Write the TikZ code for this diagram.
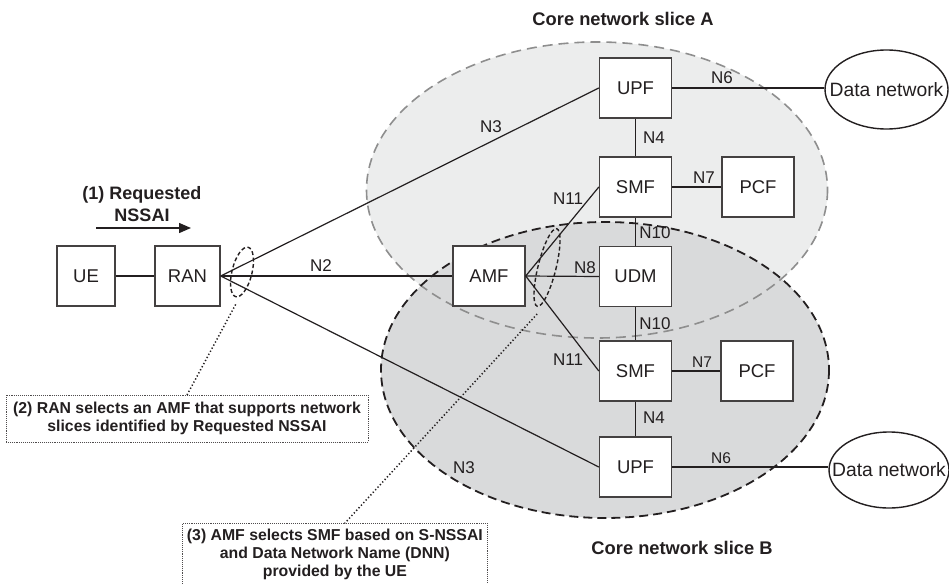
\documentclass[tikz,border=0pt]{standalone}
\usepackage{fontspec}
\setmainfont{Liberation Sans}
\usetikzlibrary{shapes.geometric,arrows.meta}
\definecolor{sliceA}{HTML}{ECEDED}
\definecolor{sliceB}{HTML}{D9DADB}
\definecolor{rimA}{HTML}{8E8E8E}
\definecolor{ink}{HTML}{231F20}

\begin{document}
\begin{tikzpicture}[x=1pt,y=-1pt,
  nf/.style={draw=ink!85, fill=white, line width=1.4pt, minimum width=72pt,
    minimum height=60pt, inner sep=0pt, text=ink,
    font=\fontsize{18.5}{20}\selectfont},
  dn/.style={ellipse, draw=ink, fill=white, line width=1.4pt,
    minimum width=123pt, minimum height=79pt, inner sep=0pt},
  dntext/.style={inner sep=0pt, text=ink, font=\fontsize{19.3}{20}\selectfont},
  link/.style={draw=ink, line width=1.2pt},
  ref/.style={inner sep=0pt, text=ink, font=\fontsize{17}{18}\selectfont},
  refsm/.style={inner sep=0pt, text=ink, font=\fontsize{15.5}{17}\selectfont},
  title/.style={inner sep=0pt, text=ink, font=\bfseries\fontsize{18.3}{20}\selectfont},
  note/.style={draw=ink!80, line width=0.8pt, dash pattern=on 0.8pt off 1.1pt,
    inner sep=0pt, align=center, text=ink,
    font=\bfseries\fontsize{15.8}{17.6}\selectfont},
  pick/.style={ellipse, draw=ink, line width=1.4pt, dash pattern=on 4pt off 2.5pt,
    inner sep=0pt},
  leader/.style={draw=ink, line width=1.5pt, dash pattern=on 1.3pt off 2.2pt}
]
\useasboundingbox (0,0) rectangle (949,583);

% core network slices
\fill[sliceA] (597,190) ellipse [x radius=230.5, y radius=148];
\fill[sliceB] (605,370) ellipse [x radius=224, y radius=148];
\draw[rimA, line width=1.6pt, dash pattern=on 10pt off 6pt]
  (597,190) ellipse [x radius=230.5, y radius=148];
\draw[ink, line width=1.8pt, dash pattern=on 9pt off 5pt]
  (605,370) ellipse [x radius=224, y radius=148];

\node[title] (titleA) at (623,19) {Core network slice A};
\node[title] (titleB) at (682,548) {Core network slice B};

% network functions
\node[nf, minimum width=58pt] (ue) at (86,276) {UE};
\node[nf, minimum width=65pt] (ran) at (187.5,276) {RAN};
\node[nf] (amf) at (489,276) {AMF};
\node[nf] (udm) at (635.5,276.5) {UDM};
\node[nf] (upfA) at (635.5,88) {UPF};
\node[nf] (smfA) at (635.5,187) {SMF};
\node[nf] (pcfA) at (758,187) {PCF};
\node[nf] (smfB) at (635.5,371) {SMF};
\node[nf] (pcfB) at (757,371) {PCF};
\node[nf] (upfB) at (635.5,467) {UPF};
\node[dn] (dnA) at (886.5,89.5) {};
\node[dntext] (dnAtext) at (dnA.center) {Data network};
\node[dn, minimum width=120pt, minimum height=76pt] (dnB) at (889,470) {};
\node[dntext] (dnBtext) at (dnB.center) {Data network};

% interfaces
\draw[link] (ue) -- (ran);
\draw[link] (ran.east) -- (amf.west);
\draw[link] (ran.east) -- (upfA.west);
\draw[link] (ran.east) -- (upfB.west);
\draw[link] (amf.east) -- (smfA.west);
\draw[link] (amf.east) -- (udm.west);
\draw[link] (amf.east) -- (smfB.west);
\draw[link] (upfA) -- (smfA);
\draw[link] (smfA) -- (udm);
\draw[link] (udm) -- (smfB);
\draw[link] (smfB) -- (upfB);
\draw[link] (smfA) -- (pcfA);
\draw[link] (smfB) -- (pcfB);
\draw[link] (upfA.east) -- (upfA.east -| dnA.west);
\draw[link] (upfB.east) -- (upfB.east -| dnB.west);

\node[ref] (lN2) at (321,266) {N2};
\node[ref] (lN3a) at (491,127) {N3};
\node[ref] (lN3b) at (464,468) {N3};
\node[ref] (lN11a) at (568,199) {N11};
\node[ref] (lN11b) at (568,360) {N11};
\node[ref] (lN8) at (585,268) {N8};
\node[ref] (lN10a) at (655,233) {N10};
\node[ref] (lN10b) at (655,324) {N10};
\node[ref] (lN4a) at (654,138) {N4};
\node[ref] (lN4b) at (654,418) {N4};
\node[ref] (lN7a) at (704,178) {N7};
\node[refsm] (lN7b) at (702,362) {N7};
\node[ref] (lN6a) at (722,78) {N6};
\node[refsm] (lN6b) at (721,458) {N6};

% step (1): requested NSSAI
\node[title, align=center, font=\bfseries\fontsize{18}{22}\selectfont] (req) at (142,204)
  {(1) Requested\\NSSAI};
\coordinate (reqL) at (96,228);
\coordinate (reqR) at (191,228);
\draw[link, line width=1.4pt, -{Triangle[length=12pt,width=10pt]}] (reqL) -- (reqR);

% selected interface groups
\node[pick, minimum width=20pt, minimum height=51pt, rotate=-14] (selRan) at (242,272) {};
\node[pick, minimum width=18pt, minimum height=80pt, rotate=-14] (selAmf) at (547,267.5) {};

% notes (2) and (3)
\node[note, minimum width=362pt, minimum height=47pt] (note2) at (187,418.5)
  {(2) RAN selects an AMF that supports network\\slices identified by Requested NSSAI};
\node[note, minimum width=305pt, minimum height=62pt, anchor=north west] (note3) at (182,523)
  {(3) AMF selects SMF based on S-NSSAI\\and Data Network Name (DNN)\\provided by the UE};

\coordinate (n2in) at (187,395);
\coordinate (n3in) at (345,523);
\draw[leader] ([yshift=-7pt]selRan.south) -- (n2in);
\draw[leader] ([yshift=-7pt]selAmf.south) -- (n3in);
\end{tikzpicture}
\end{document}
